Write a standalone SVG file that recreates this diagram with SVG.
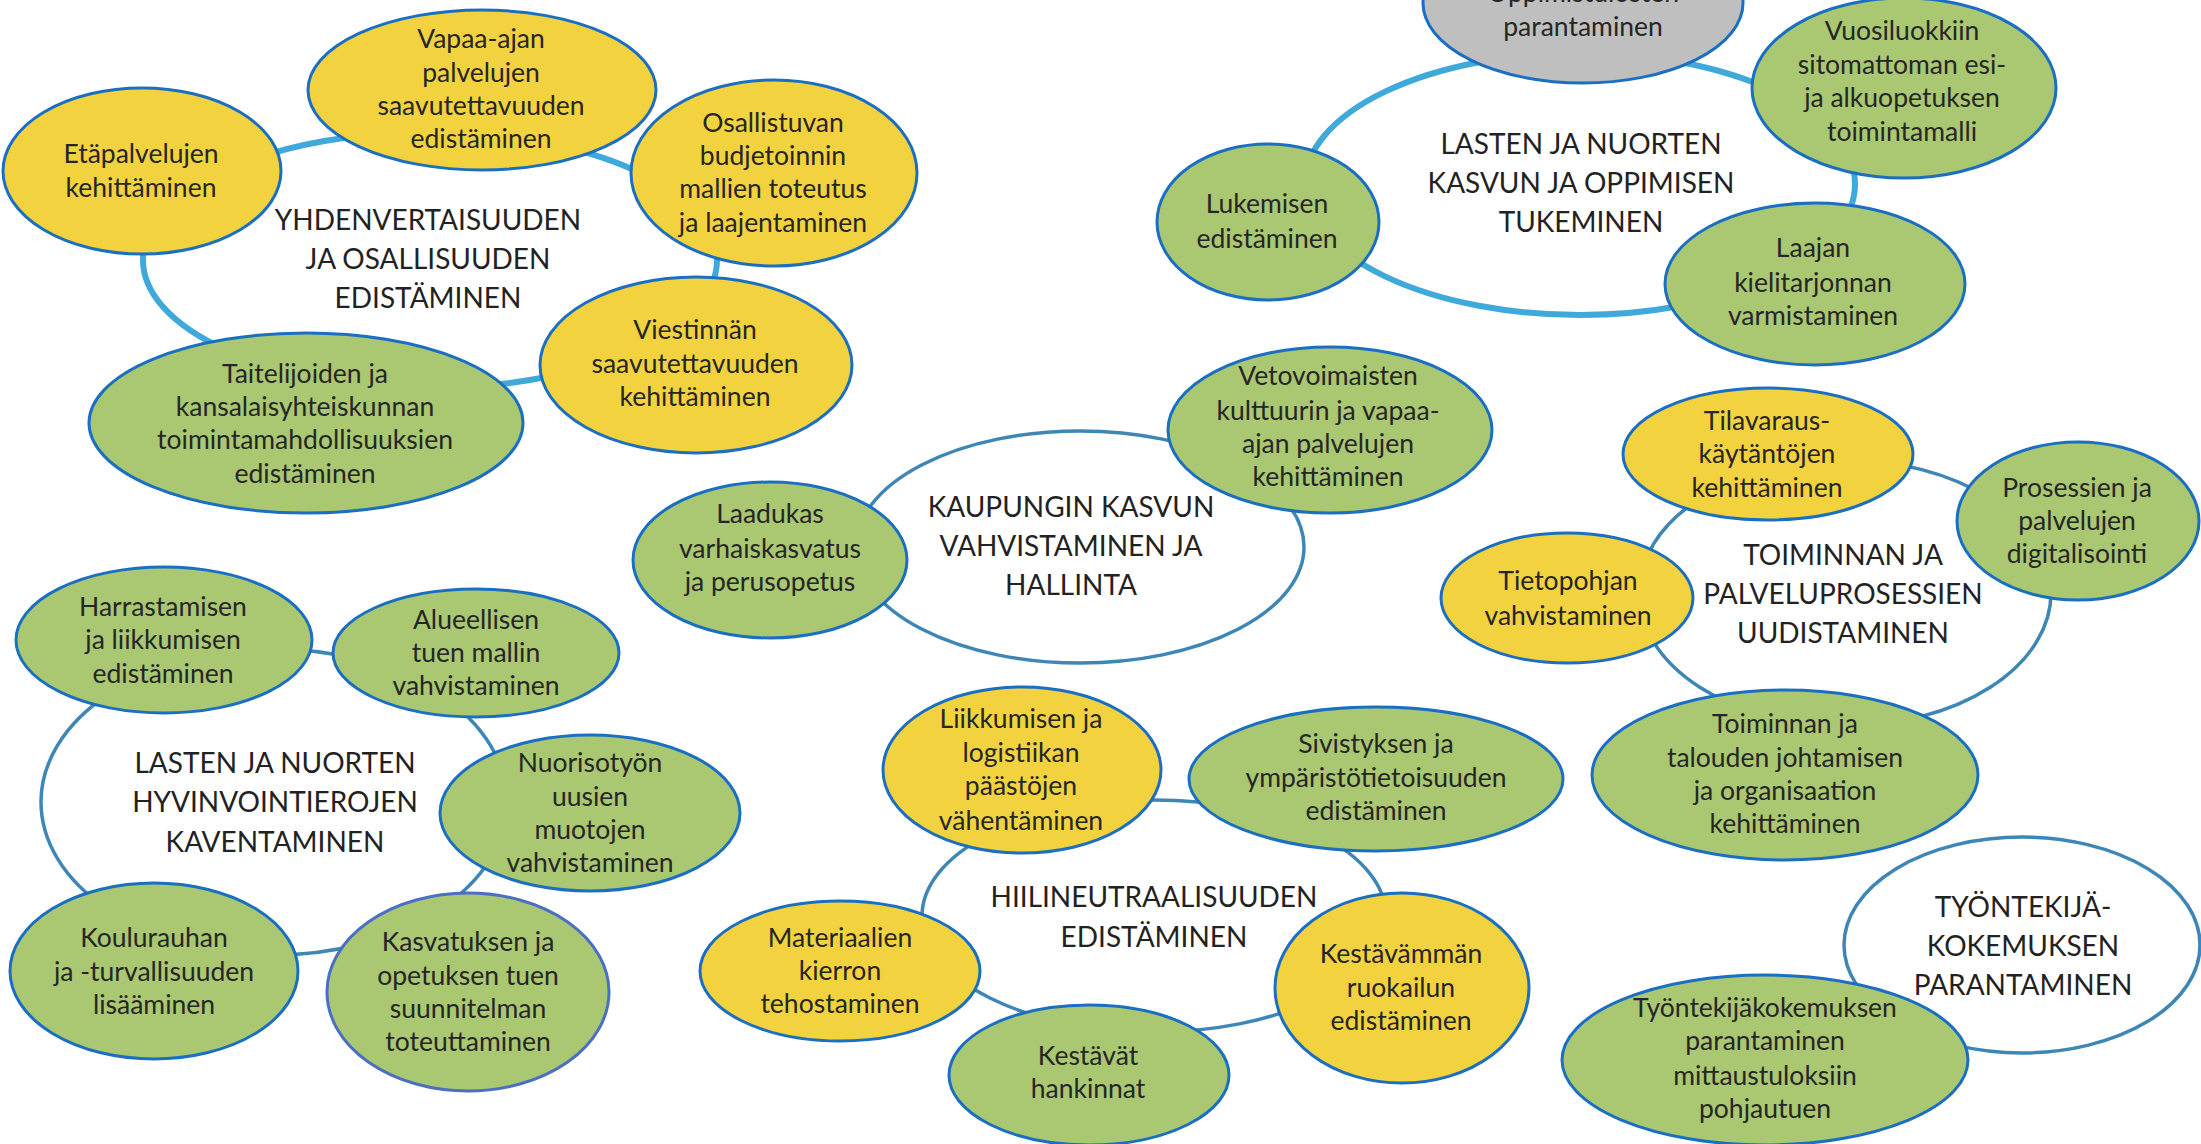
<svg xmlns="http://www.w3.org/2000/svg" width="2201" height="1144" viewBox="0 0 2201 1144">
<style>
.ring1{fill:none;stroke:#3FA9DB;stroke-width:6}
.ring2{fill:none;stroke:#3E86B6;stroke-width:3.5}
.y{fill:#F2D23E;stroke:#1B6FC2;stroke-width:3}
.g{fill:#AAC771;stroke:#1B6FC2;stroke-width:3}
.gr{fill:#BFBFBF;stroke:#1B6FC2;stroke-width:3}
.w{fill:#FFFFFF;stroke:#3E86B6;stroke-width:3.5}
text{font-family:Lato,"Liberation Sans",sans-serif;fill:#262626;text-anchor:middle}
.t{font-size:26.5px}
.c{font-size:28px;font-weight:400;fill:#222222}
</style>
<rect width="2201" height="1144" fill="#FFFFFF"/>
<g id="connectors">
<ellipse class="ring1" cx="430" cy="260" rx="287" ry="128"/>
<ellipse class="ring1" cx="1580" cy="184" rx="275" ry="131"/>
<ellipse class="ring2" cx="1080" cy="547" rx="224" ry="116"/>
<ellipse class="ring2" cx="1845" cy="593" rx="206" ry="133"/>
<ellipse class="ring2" cx="274" cy="802" rx="233" ry="153"/>
<ellipse class="ring2" cx="1154" cy="916" rx="232" ry="116"/>
</g>
<g id="c-yhdenvertaisuus"><text class="c" x="428" y="230">YHDENVERTAISUUDEN</text><text class="c" x="428" y="269">JA OSALLISUUDEN</text><text class="c" x="428" y="308">EDISTÄMINEN</text></g>
<g id="c-kasvu-oppiminen"><text class="c" x="1581" y="154">LASTEN JA NUORTEN</text><text class="c" x="1581" y="193">KASVUN JA OPPIMISEN</text><text class="c" x="1581" y="232">TUKEMINEN</text></g>
<g id="c-kaupunki"><text class="c" x="1071" y="517">KAUPUNGIN KASVUN</text><text class="c" x="1071" y="556">VAHVISTAMINEN JA</text><text class="c" x="1071" y="595">HALLINTA</text></g>
<g id="c-toiminta"><text class="c" x="1843" y="565">TOIMINNAN JA</text><text class="c" x="1843" y="604">PALVELUPROSESSIEN</text><text class="c" x="1843" y="643">UUDISTAMINEN</text></g>
<g id="c-hyvinvointi"><text class="c" x="275" y="773">LASTEN JA NUORTEN</text><text class="c" x="275" y="812">HYVINVOINTIEROJEN</text><text class="c" x="275" y="852">KAVENTAMINEN</text></g>
<g id="c-hiilineutraalisuus"><text class="c" x="1154" y="907">HIILINEUTRAALISUUDEN</text><text class="c" x="1154" y="947">EDISTÄMINEN</text></g>
<g id="c-tyontekija"><ellipse class="w" cx="2022" cy="945" rx="178" ry="108"/><text class="c" x="2023" y="917">TYÖNTEKIJÄ-</text><text class="c" x="2023" y="956">KOKEMUKSEN</text><text class="c" x="2023" y="995">PARANTAMINEN</text></g>

<g id="n-etapalvelut"><ellipse class="y" cx="142" cy="171" rx="139" ry="83"/><text class="t" x="141" y="163">Etäpalvelujen</text><text class="t" x="141" y="197">kehittäminen</text></g>
<g id="n-vapaa-ajan"><ellipse class="y" cx="482" cy="90" rx="174" ry="80"/><text class="t" x="481" y="48">Vapaa-ajan</text><text class="t" x="481" y="82">palvelujen</text><text class="t" x="481" y="115">saavutettavuuden</text><text class="t" x="481" y="148">edistäminen</text></g>
<g id="n-osallistuva"><ellipse class="y" cx="774" cy="173" rx="143" ry="93"/><text class="t" x="773" y="132">Osallistuvan</text><text class="t" x="773" y="165">budjetoinnin</text><text class="t" x="773" y="198">mallien toteutus</text><text class="t" x="773" y="232">ja laajentaminen</text></g>
<g id="n-viestinta"><ellipse class="y" cx="696" cy="365" rx="156" ry="88"/><text class="t" x="695" y="339">Viestinnän</text><text class="t" x="695" y="373">saavutettavuuden</text><text class="t" x="695" y="406">kehittäminen</text></g>
<g id="n-taiteilijat"><ellipse class="g" cx="306" cy="423" rx="217" ry="90"/><text class="t" x="305" y="383">Taitelijoiden ja</text><text class="t" x="305" y="416">kansalaisyhteiskunnan</text><text class="t" x="305" y="449">toimintamahdollisuuksien</text><text class="t" x="305" y="483">edistäminen</text></g>

<g id="n-oppimistulokset"><ellipse class="gr" cx="1583" cy="3" rx="160" ry="80"/><text class="t" x="1583" y="2">Oppimistulosten</text><text class="t" x="1583" y="36">parantaminen</text></g>
<g id="n-vuosiluokat"><ellipse class="g" cx="1904" cy="88" rx="152" ry="90"/><text class="t" x="1902" y="40">Vuosiluokkiin</text><text class="t" x="1902" y="74">sitomattoman esi-</text><text class="t" x="1902" y="107">ja alkuopetuksen</text><text class="t" x="1902" y="141">toimintamalli</text></g>
<g id="n-lukeminen"><ellipse class="g" cx="1268" cy="222" rx="111" ry="78"/><text class="t" x="1267" y="213">Lukemisen</text><text class="t" x="1267" y="248">edistäminen</text></g>
<g id="n-kielitarjonta"><ellipse class="g" cx="1815" cy="284" rx="150" ry="81"/><text class="t" x="1813" y="257">Laajan</text><text class="t" x="1813" y="292">kielitarjonnan</text><text class="t" x="1813" y="325">varmistaminen</text></g>

<g id="n-laadukas"><ellipse class="g" cx="770" cy="560" rx="137" ry="78"/><text class="t" x="770" y="523">Laadukas</text><text class="t" x="770" y="558">varhaiskasvatus</text><text class="t" x="770" y="591">ja perusopetus</text></g>
<g id="n-vetovoima"><ellipse class="g" cx="1330" cy="430" rx="162" ry="83"/><text class="t" x="1328" y="385">Vetovoimaisten</text><text class="t" x="1328" y="420">kulttuurin ja vapaa-</text><text class="t" x="1328" y="453">ajan palvelujen</text><text class="t" x="1328" y="486">kehittäminen</text></g>

<g id="n-tilavaraus"><ellipse class="y" cx="1768" cy="454" rx="145" ry="66"/><text class="t" x="1767" y="430">Tilavaraus-</text><text class="t" x="1767" y="463">käytäntöjen</text><text class="t" x="1767" y="497">kehittäminen</text></g>
<g id="n-digitalisointi"><ellipse class="g" cx="2078" cy="521" rx="121" ry="79"/><text class="t" x="2077" y="497">Prosessien ja</text><text class="t" x="2077" y="530">palvelujen</text><text class="t" x="2077" y="563">digitalisointi</text></g>
<g id="n-tietopohja"><ellipse class="y" cx="1567" cy="598" rx="126" ry="65"/><text class="t" x="1568" y="590">Tietopohjan</text><text class="t" x="1568" y="625">vahvistaminen</text></g>
<g id="n-johtaminen"><ellipse class="g" cx="1785" cy="775" rx="193" ry="85"/><text class="t" x="1785" y="733">Toiminnan ja</text><text class="t" x="1785" y="767">talouden johtamisen</text><text class="t" x="1785" y="800">ja organisaation</text><text class="t" x="1785" y="833">kehittäminen</text></g>

<g id="n-harrastaminen"><ellipse class="g" cx="164" cy="640" rx="148" ry="73"/><text class="t" x="163" y="616">Harrastamisen</text><text class="t" x="163" y="649">ja liikkumisen</text><text class="t" x="163" y="683">edistäminen</text></g>
<g id="n-alueellinen"><ellipse class="g" cx="476" cy="653" rx="143" ry="64"/><text class="t" x="476" y="629">Alueellisen</text><text class="t" x="476" y="662">tuen mallin</text><text class="t" x="476" y="695">vahvistaminen</text></g>
<g id="n-nuorisotyo"><ellipse class="g" cx="590" cy="813" rx="150" ry="78"/><text class="t" x="590" y="772">Nuorisotyön</text><text class="t" x="590" y="806">uusien</text><text class="t" x="590" y="839">muotojen</text><text class="t" x="590" y="872">vahvistaminen</text></g>
<g id="n-kourauha"><ellipse class="g" cx="154" cy="971" rx="144" ry="88"/><text class="t" x="154" y="947">Koulurauhan</text><text class="t" x="154" y="981">ja -turvallisuuden</text><text class="t" x="154" y="1014">lisääminen</text></g>
<g id="n-kasvatus"><ellipse class="g" cx="468" cy="992" rx="141" ry="99" style="stroke:#4A6FC4"/><text class="t" x="468" y="951">Kasvatuksen ja</text><text class="t" x="468" y="985">opetuksen tuen</text><text class="t" x="468" y="1018">suunnitelman</text><text class="t" x="468" y="1051">toteuttaminen</text></g>

<g id="n-liikkuminen"><ellipse class="y" cx="1022" cy="770" rx="139" ry="83"/><text class="t" x="1021" y="728">Liikkumisen ja</text><text class="t" x="1021" y="762">logistiikan</text><text class="t" x="1021" y="795">päästöjen</text><text class="t" x="1021" y="830">vähentäminen</text></g>
<g id="n-sivistys"><ellipse class="g" cx="1376" cy="779" rx="187" ry="72"/><text class="t" x="1376" y="753">Sivistyksen ja</text><text class="t" x="1376" y="787">ympäristötietoisuuden</text><text class="t" x="1376" y="820">edistäminen</text></g>
<g id="n-materiaalit"><ellipse class="y" cx="840" cy="971" rx="140" ry="70"/><text class="t" x="840" y="947">Materiaalien</text><text class="t" x="840" y="980">kierron</text><text class="t" x="840" y="1013">tehostaminen</text></g>
<g id="n-hankinnat"><ellipse class="g" cx="1089" cy="1075" rx="140" ry="70"/><text class="t" x="1088" y="1065">Kestävät</text><text class="t" x="1088" y="1098">hankinnat</text></g>
<g id="n-ruokailu"><ellipse class="y" cx="1402" cy="988" rx="127" ry="95"/><text class="t" x="1401" y="963">Kestävämmän</text><text class="t" x="1401" y="997">ruokailun</text><text class="t" x="1401" y="1030">edistäminen</text></g>

<g id="n-tyontekijakokemus"><ellipse class="g" cx="1765" cy="1060" rx="203" ry="85"/><text class="t" x="1765" y="1017">Työntekijäkokemuksen</text><text class="t" x="1765" y="1050">parantaminen</text><text class="t" x="1765" y="1085">mittaustuloksiin</text><text class="t" x="1765" y="1118">pohjautuen</text></g>
</svg>
